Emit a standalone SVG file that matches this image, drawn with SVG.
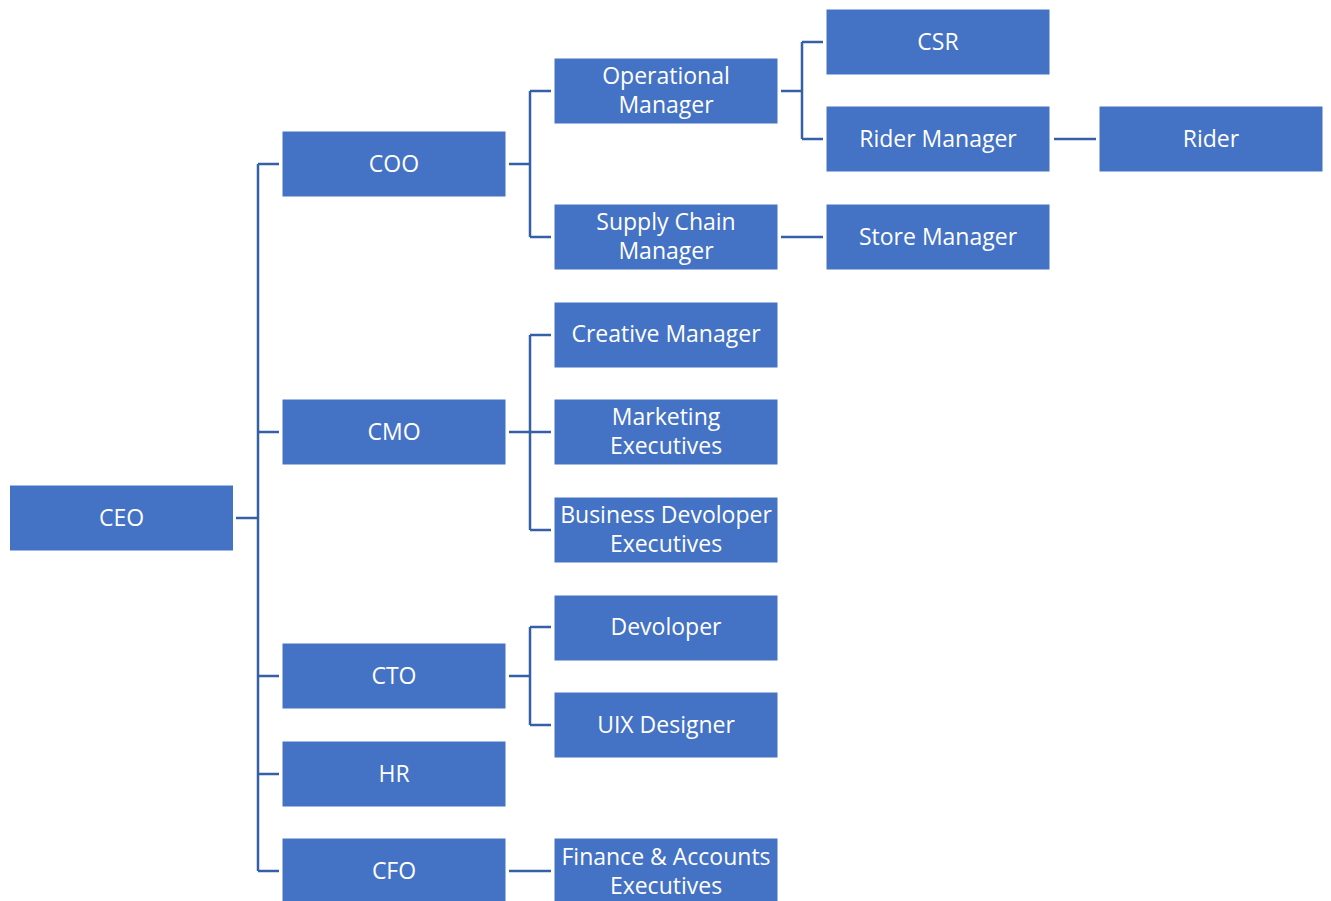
<svg xmlns="http://www.w3.org/2000/svg" width="1331" height="901" viewBox="0 0 1331 901">
<style>
.n rect{fill:#4472C4;stroke:#ffffff;stroke-width:1}
.n text{fill:#ffffff;font-family:"Open Sans",Lato,"Liberation Sans",sans-serif;font-size:23px;text-anchor:middle}
#connectors path{fill:none;stroke:#3560A8;stroke-width:2.5}
</style>
<rect width="1331" height="901" fill="#ffffff"/>
<g id="connectors">
<path d="M236 518H258M258 164V871M258 164H279M258 432H279M258 676H279M258 774H279M258 871H279"/>
<path d="M509 164H530M530 91V237M530 91H551M530 237H551"/>
<path d="M509 432H530M530 335V530M530 335H551M530 432H551M530 530H551"/>
<path d="M509 676H530M530 627V725M530 627H551M530 725H551"/>
<path d="M509 871H551"/>
<path d="M781 91H802M802 42V139M802 42H823M802 139H823"/>
<path d="M781 237H823"/>
<path d="M1054 139H1096"/>
</g>
<g id="ceo" class="n"><rect x="9.5" y="485" width="224" height="66"/><text x="121.5" y="526">CEO</text></g>
<g id="coo" class="n"><rect x="282" y="131" width="224" height="66"/><text x="394" y="172">COO</text></g>
<g id="cmo" class="n"><rect x="282" y="399" width="224" height="66"/><text x="394" y="440">CMO</text></g>
<g id="cto" class="n"><rect x="282" y="643" width="224" height="66"/><text x="394" y="684">CTO</text></g>
<g id="hr" class="n"><rect x="282" y="741" width="224" height="66"/><text x="394" y="782">HR</text></g>
<g id="cfo" class="n"><rect x="282" y="838" width="224" height="66"/><text x="394" y="879">CFO</text></g>
<g id="opmgr" class="n"><rect x="554" y="58" width="224" height="66"/><text x="666" y="84">Operational</text><text x="666" y="113">Manager</text></g>
<g id="scm" class="n"><rect x="554" y="204" width="224" height="66"/><text x="666" y="230">Supply Chain</text><text x="666" y="259">Manager</text></g>
<g id="creative" class="n"><rect x="554" y="302" width="224" height="66"/><text x="666" y="342">Creative Manager</text></g>
<g id="marketing" class="n"><rect x="554" y="399" width="224" height="66"/><text x="666" y="425">Marketing</text><text x="666" y="454">Executives</text></g>
<g id="bizdev" class="n"><rect x="554" y="497" width="224" height="66"/><text x="666" y="523">Business Devoloper</text><text x="666" y="552">Executives</text></g>
<g id="devoloper" class="n"><rect x="554" y="595" width="224" height="66"/><text x="666" y="635">Devoloper</text></g>
<g id="uix" class="n"><rect x="554" y="692" width="224" height="66"/><text x="666" y="733">UIX Designer</text></g>
<g id="finance" class="n"><rect x="554" y="838" width="224" height="66"/><text x="666" y="865">Finance &amp; Accounts</text><text x="666" y="894">Executives</text></g>
<g id="csr" class="n"><rect x="826" y="9" width="224" height="66"/><text x="938" y="50">CSR</text></g>
<g id="ridermgr" class="n"><rect x="826" y="106" width="224" height="66"/><text x="938" y="147">Rider Manager</text></g>
<g id="storemgr" class="n"><rect x="826" y="204" width="224" height="66"/><text x="938" y="245">Store Manager</text></g>
<g id="rider" class="n"><rect x="1099" y="106" width="224" height="66"/><text x="1211" y="147">Rider</text></g>
</svg>
